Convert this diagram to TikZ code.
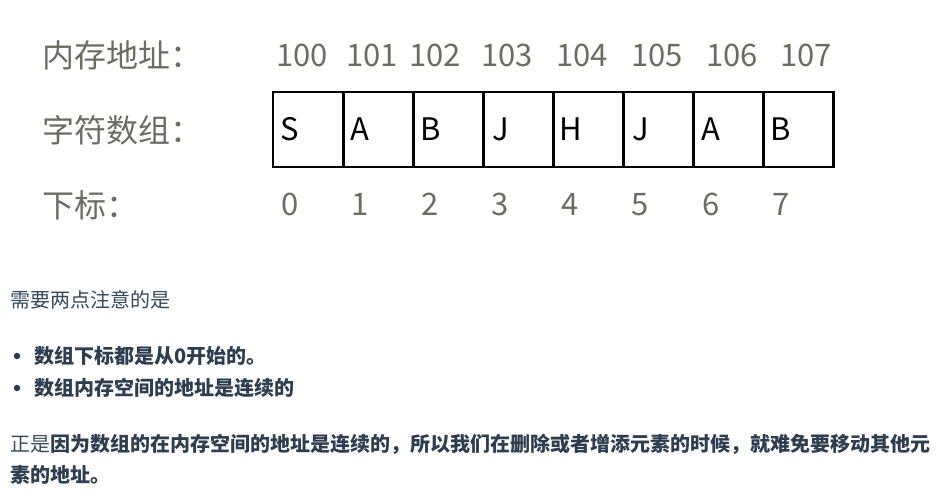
\documentclass[tikz,border=0pt]{standalone}
\usepackage{fontspec}
\setmainfont{Noto Sans CJK SC}
\usetikzlibrary{positioning}
\definecolor{labelgray}{RGB}{107,109,98}
\definecolor{bodytext}{HTML}{34495E}
\definecolor{boldtext}{HTML}{2C3E50}
\newcommand{\slot}[1]{\makebox[34pt]{#1}}

\begin{document}
\begin{tikzpicture}[
        x=1pt, y=-1pt,
        node distance=0pt,
        rowlabel/.style={anchor=west, inner sep=0pt, text=labelgray,
                         font=\fontsize{32}{36}\selectfont},
        addr/.style={inner sep=0pt, text=labelgray,
                     font=\fontsize{31}{36}\selectfont},
        idx/.style={addr},
        cell/.style={draw, line width=2.8pt, minimum height=75pt,
                     text width=70.1pt, inner sep=0pt, outer sep=0pt,
                     align=left, font=\fontsize{31}{36}\selectfont},
        para/.style={anchor=west, inner sep=0pt, text=bodytext,
                     font=\fontsize{20}{24}\selectfont},
        boldpara/.style={para, text=boldtext,
                         font=\fontsize{20}{24}\selectfont\bfseries},
        dot/.style={circle, fill=boldtext, inner sep=0pt, minimum size=6.5pt}
    ]
        \useasboundingbox (0,0) rectangle (945,500);

        \node[rowlabel] (memlabel) at (42,55) {内存地址：};
        \node[rowlabel] (arrlabel) at (42,130) {字符数组：};
        \node[rowlabel] (idxlabel) at (42,205) {下标：};

        \node[addr] (a0) at (302,55) {100};
        \node[addr] (a1) at (372,55) {101};
        \node[addr] (a2) at (435,55) {102};
        \node[addr] (a3) at (507,55) {103};
        \node[addr] (a4) at (582,55) {104};
        \node[addr] (a5) at (657,55) {105};
        \node[addr] (a6) at (732,55) {106};
        \node[addr] (a7) at (806,55) {107};

        \node[cell, anchor=west] (c0) at (273,129.5) {\slot{S}};
        \node[cell, right=of c0] (c1) {\slot{A}};
        \node[cell, right=of c1] (c2) {\slot{B}};
        \node[cell, right=of c2] (c3) {\slot{J}};
        \node[cell, right=of c3] (c4) {\slot{H}};
        \node[cell, right=of c4] (c5) {\slot{J}};
        \node[cell, right=of c5] (c6) {\slot{A}};
        \node[cell, right=of c6] (c7) {\slot{B}};

        \node[idx] (i0) at ([shift={(17,75)}]c0.west) {0};
        \node[idx] (i1) at ([shift={(17,75)}]c1.west) {1};
        \node[idx] (i2) at ([shift={(17,75)}]c2.west) {2};
        \node[idx] (i3) at ([shift={(17,75)}]c3.west) {3};
        \node[idx] (i4) at ([shift={(17,75)}]c4.west) {4};
        \node[idx] (i5) at ([shift={(17,75)}]c5.west) {5};
        \node[idx] (i6) at ([shift={(17,75)}]c6.west) {6};
        \node[idx] (i7) at ([shift={(17,75)}]c7.west) {7};

        \node[para] (note) at (10,300) {需要两点注意的是};
        \node[dot] (dot1) at (17,356) {};
        \node[boldpara] (point1) at (34,356) {数组下标都是从0开始的。};
        \node[dot] (dot2) at (17,388) {};
        \node[boldpara] (point2) at (34,388) {数组内存空间的地址是连续的};
        \node[para] (line1) at (10,444)
            {正是{\bfseries\color{boldtext}因为数组的在内存空间的地址是连续的，所以我们在删除或者增添元素的时候，就难免要移动其他元}};
        \node[boldpara] (line2) at (10,475) {素的地址。};
    \end{tikzpicture}
\end{document}
